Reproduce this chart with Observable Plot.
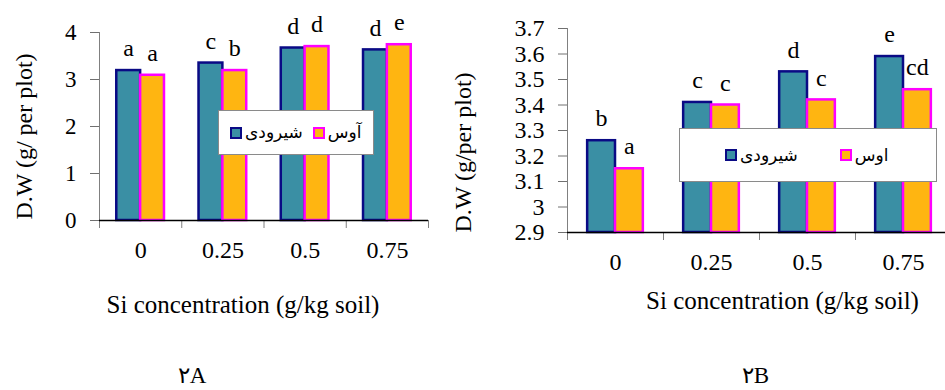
<!DOCTYPE html>
<html><head><meta charset="utf-8">
<script src="https://cdn.jsdelivr.net/npm/d3@7"></script>
<script src="https://cdn.jsdelivr.net/npm/@observablehq/plot@0.6"></script>
<style>
body{margin:0;background:#fff;}
#wrap{position:relative;width:945px;height:390px;overflow:hidden;background:#fff;}
.panel{position:absolute;top:0;}
.legend{position:absolute;background:#fff;border:1px solid #8a8a8a;box-sizing:border-box;display:flex;align-items:center;font-family:"DejaVu Sans",sans-serif;font-size:17px;color:#000;direction:ltr;}
.sw{width:8px;height:8px;border:2.5px solid;display:inline-block;flex:none;}
.lt{white-space:nowrap;line-height:1;}
</style></head>
<body>
<div id="wrap">
  <div id="pA" class="panel" style="left:0"></div>
  <div id="pB" class="panel" style="left:440px"></div>
  <div id="legA" class="legend" style="left:218px;top:110px;width:156px;height:45px;padding-left:11px;"></div>
  <div id="legB" class="legend" style="left:679px;top:128px;width:258px;height:54px;padding-left:45px;"></div>
</div>
<script>
// ---- data ----
const categories = ["0", "0.25", "0.5", "0.75"];
const seriesA = ["شیرودی", "آوس"];
const seriesB = ["شیرودی", "اوس"];

const valuesA_shiroudi = [3.19, 3.35, 3.67, 3.63];
const valuesA_ous      = [3.09, 3.19, 3.70, 3.74];
const lettersA_shiroudi = ["a", "c", "d", "d"];
const lettersA_ous      = ["a", "b", "d", "e"];

const valuesB_shiroudi = [3.26, 3.41, 3.53, 3.59];
const valuesB_ous      = [3.15, 3.40, 3.42, 3.46];
const lettersB_shiroudi = ["b", "c", "d", "e"];
const lettersB_ous      = ["a", "c", "c", "cd"];

const yTicksA = [0, 1, 2, 3, 4];
const yTickLabelsA = ["0", "1", "2", "3", "4"];
const yTicksB = [2.9, 3.0, 3.1, 3.2, 3.3, 3.4, 3.5, 3.6, 3.7];
const yTickLabelsB = ["2.9", "3", "3.1", "3.2", "3.3", "3.4", "3.5", "3.6", "3.7"];

const xTitle = "Si concentration (g/kg soil)";
const yTitleA = "D.W (g/ per plot)";
const yTitleB = "D.W (g/per plot)";
const captionA = "٢A";
const captionB = "٢B";

// ---- style ----
const fills = ["#3A8FA4", "#FFB511"];
const strokes = ["#0A0A85", "#FF00FF"];
const barStart = 0.21, barW = 0.29;
const serif = "'Liberation Serif', 'Times New Roman', serif";

function rows(vs, vo, ls, lo) {
  const out = [];
  categories.forEach((c, i) => {
    out.push({i, s: 0, v: vs[i], letter: ls[i]});
    out.push({i, s: 1, v: vo[i], letter: lo[i]});
  });
  return out;
}

function chart(cfg) {
  const data = cfg.data;
  const yBase = cfg.yTicks[0];
  const boundaries = d3.range(categories.length + 1);
  const centers = categories.map((c, i) => i + 0.5);
  const marks = [];
  [0, 1].forEach(s => {
    marks.push(Plot.rect(data.filter(d => d.s === s), {
      x1: d => d.i + barStart + d.s * barW,
      x2: d => d.i + barStart + (d.s + 1) * barW,
      y1: () => yBase, y2: "v",
      fill: fills[s], stroke: strokes[s], strokeWidth: 2.5
    }));
  });
  marks.push(
    Plot.ruleX([0], {stroke: "#808080", strokeWidth: 1}),
    Plot.axisY({ticks: cfg.yTicks, tickSize: 9, tickPadding: 14, stroke: "#707070",
      tickFormat: d => cfg.yLabels[cfg.yTicks.indexOf(d)], fontSize: cfg.yFont, label: null}),
    Plot.axisX({ticks: boundaries, tickSize: 8, tickFormat: () => "", stroke: "#808080", label: null}),
    Plot.axisX({ticks: centers, tickSize: 0, tickPadding: 20, fontSize: 24, label: null,
      tickFormat: d => categories[Math.floor(d)]}),
    Plot.ruleY([yBase], {stroke: "#000", strokeWidth: 1.5}),
    Plot.text(data, {x: d => d.i + barStart + (d.s + 0.5) * barW, y: "v", text: "letter", dy: -22, fontSize: 24}),
    Plot.text([cfg.yTitle], {frameAnchor: "left", textAnchor: "middle", lineAnchor: "middle", text: d => d,
      rotate: -90, dx: cfg.yTitleDx, dy: cfg.yTitleDy, fontSize: 24}),
    Plot.text([xTitle], {frameAnchor: "bottom", textAnchor: "middle", lineAnchor: "middle", text: d => d,
      dx: cfg.xTitleDx, dy: cfg.xTitleDy, fontSize: 25}),
    Plot.text([cfg.caption], {frameAnchor: "bottom", textAnchor: "middle", lineAnchor: "middle", text: d => d,
      dx: cfg.capDx, dy: cfg.capDy, fontSize: 23})
  );
  return Plot.plot({
    width: cfg.width, height: 390,
    marginLeft: cfg.left, marginRight: cfg.width - cfg.right, marginTop: cfg.top, marginBottom: 390 - cfg.bottom,
    x: {domain: [0, categories.length], range: [cfg.left, cfg.right]},
    y: {domain: [yBase, cfg.yTicks[cfg.yTicks.length - 1]], range: [cfg.bottom, cfg.top]},
    style: {fontFamily: serif, fontSize: "22px", color: "#000", background: "transparent", overflow: "hidden"},
    marks
  });
}

document.getElementById("pA").appendChild(chart({
  data: rows(valuesA_shiroudi, valuesA_ous, lettersA_shiroudi, lettersA_ous),
  width: 440, left: 99, right: 428, top: 32, bottom: 220,
  yTicks: yTicksA, yLabels: yTickLabelsA, yFont: 23,
  yTitle: yTitleA, yTitleDx: -75, yTitleDy: 10,
  xTitleDx: -21, xTitleDy: 84, caption: captionA, capDx: -72, capDy: 155
}));

document.getElementById("pB").appendChild(chart({
  data: rows(valuesB_shiroudi, valuesB_ous, lettersB_shiroudi, lettersB_ous),
  width: 505, left: 127, right: 511, top: 28, bottom: 232,
  yTicks: yTicksB, yLabels: yTickLabelsB, yFont: 24,
  yTitle: yTitleB, yTitleDx: -104, yTitleDy: 22,
  xTitleDx: 23, xTitleDy: 68, caption: captionB, capDx: -4, capDy: 143
}));

function legend(id, names, gap) {
  const el = document.getElementById(id);
  names.forEach((n, s) => {
    const sw = document.createElement("span");
    sw.className = "sw";
    sw.style.background = fills[s];
    sw.style.borderColor = strokes[s];
    sw.style.marginRight = "3px";
    if (s > 0) sw.style.marginLeft = gap + "px";
    const t = document.createElement("span");
    t.className = "lt";
    t.textContent = n;
    el.appendChild(sw); el.appendChild(t);
  });
}
legend("legA", seriesA, 10);
legend("legB", seriesB, 42);
</script>
</body></html>
